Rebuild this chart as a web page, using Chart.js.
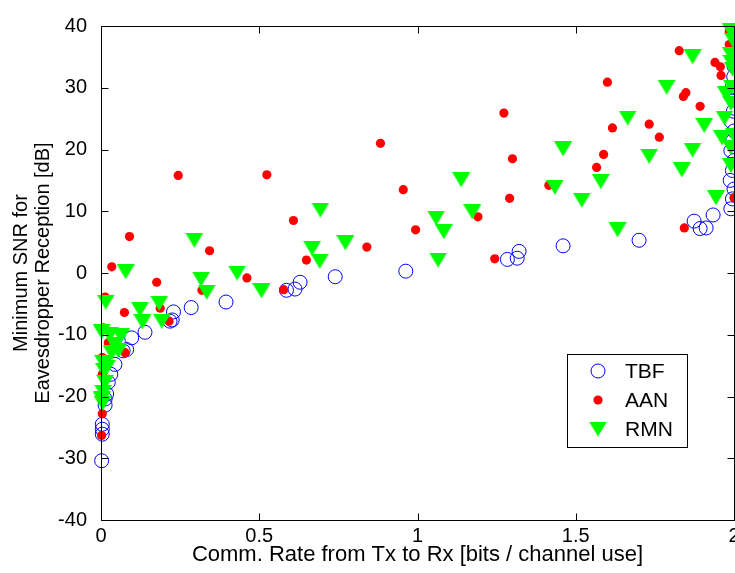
<!DOCTYPE html>
<html><head><meta charset="utf-8">
<script src="https://cdn.jsdelivr.net/npm/chart.js@4.4.1/dist/chart.umd.min.js"></script>
<style>
html,body{margin:0;padding:0;overflow:hidden;background:#fff;width:735px;height:573px}
#wrap{position:absolute;left:0;top:0;width:800px;height:573px}
</style>
</head><body><div id="wrap"><canvas id="c" width="800" height="573"></canvas></div>
<script>
// ---- data ----
const xTickLabels = [0, 0.5, 1, 1.5, 2];
const yTickLabels = [-40, -30, -20, -10, 0, 10, 20, 30, 40];
const seriesNames = ['TBF', 'AAN', 'RMN'];

const tbfX = [0.002,0.004,0.004,0.004,0.013,0.013,0.018,0.023,0.031,0.044,0.070,0.081,0.097,0.139,0.218,0.225,0.229,0.285,0.395,0.586,0.613,0.629,0.740,0.963,1.284,1.315,1.321,1.460,1.700,1.874,1.893,1.912,1.934,
  1.990,1.995,2.000,1.988,1.995,2.000,1.990,1.996,2.000,1.992,1.998,2.000,1.994,1.999,2.000];
const tbfY = [-30.4,-26.1,-25.3,-24.5,-21.4,-20.4,-19.6,-17.7,-16.4,-14.8,-12.6,-12.4,-10.5,-9.6,-7.8,-7.6,-6.3,-5.6,-4.7,-2.8,-2.6,-1.5,-0.6,0.3,2.2,2.4,3.5,4.4,5.3,8.4,7.2,7.3,9.4,
  10.4,12.0,13.6,15.0,16.6,18.2,19.8,21.4,23.0,24.5,26.2,28.0,30.0,31.8,33.5];

const aanX = [0.002,0.004,0.004,0.004,0.007,0.013,0.023,0.034,0.074,0.076,0.090,0.176,0.187,0.215,0.244,0.319,0.343,0.461,0.524,0.577,0.608,0.649,0.840,0.883,0.955,0.994,1.191,1.244,1.273,1.291,1.300,1.415,1.566,1.588,1.600,1.616,1.732,1.764,1.827,1.840,1.848,1.843,1.893,1.940,1.957,1.959,1.985,1.985,2.000];
const aanY = [-26.3,-22.8,-16.4,-13.7,-8.9,-3.9,-11.3,1.0,-6.4,-12.9,5.9,-1.5,-5.7,-7.8,15.8,-2.8,3.6,-0.8,15.9,-2.7,8.5,2.1,4.2,21.0,13.5,7.0,9.1,2.3,25.9,12.1,18.5,14.2,17.1,19.2,30.9,23.5,24.1,22.0,36.0,28.6,29.2,7.3,27.0,34.1,33.4,32.0,39.1,37.0,12.2];

const rmnX = [0.002,0.005,0.007,0.013,0.010,0.007,0.018,0.002,0.028,0.063,0.044,0.034,0.055,0.015,0.078,0.123,0.131,0.184,0.192,0.295,0.316,0.334,0.430,0.507,0.667,0.691,0.693,0.772,1.059,1.065,1.083,1.138,1.173,1.434,1.460,1.519,1.579,1.632,1.664,1.732,1.787,1.835,1.869,1.869,1.906,1.943,1.962,1.970,1.975,1.990,1.998,1.990,1.992,1.996,1.993,1.990,2.000,1.990,1.990];
const rmnY = [-20.4,-21.1,-19.3,-17.7,-15.8,-14.5,-15.3,-9.5,-10.0,-10.2,-11.6,-12.9,-12.6,-4.7,0.2,-5.9,-7.9,-4.9,-7.8,5.3,-1.0,-3.1,0.0,-2.9,4.0,1.9,10.2,4.9,8.9,2.1,6.7,15.1,9.9,13.9,20.1,11.8,14.8,7.0,25.1,18.9,30.1,16.7,35.0,19.9,23.9,12.2,21.9,25.1,29.0,39.2,37.6,35.4,34.1,33.0,30.1,27.5,22.2,20.3,17.4];

const FONT = "'Liberation Sans', Arial, Helvetica, sans-serif";

// down-pointing triangle marker image (bbox-centred like MATLAB 'v')
function triMarker(w, h, color) {
  const c = document.createElement('canvas');
  c.width = w; c.height = h;
  const g = c.getContext('2d');
  g.fillStyle = color;
  g.beginPath(); g.moveTo(0, 0); g.lineTo(w, 0); g.lineTo(w / 2, h); g.closePath(); g.fill();
  return c;
}
const tri = triMarker(18, 15, '#00ff00');

const pts = (xs, ys) => xs.map((x, i) => ({x: x, y: ys[i]}));

const frame = {
  id: 'frame',
  afterDatasetsDraw(chart) {
    const {ctx, chartArea: a, scales: {x, y}} = chart;
    ctx.save();
    ctx.strokeStyle = '#000'; ctx.lineWidth = 1;
    const L = Math.round(a.left) + 0.5, R = Math.round(a.right) + 0.5;
    const T = Math.round(a.top) + 0.5, B = Math.round(a.bottom) + 0.5;
    ctx.beginPath();
    ctx.rect(L, T, R - L, B - T);
    const tl = 7;
    x.ticks.forEach(t => {
      const p = Math.round(x.getPixelForValue(t.value)) + 0.5;
      ctx.moveTo(p, B); ctx.lineTo(p, B - tl);
      ctx.moveTo(p, T); ctx.lineTo(p, T + tl);
    });
    y.ticks.forEach(t => {
      const p = Math.round(y.getPixelForValue(t.value)) + 0.5;
      ctx.moveTo(L, p); ctx.lineTo(L + tl, p);
      ctx.moveTo(R, p); ctx.lineTo(R - tl, p);
    });
    ctx.stroke();
    ctx.restore();
  },
  afterDraw(chart) {
    const ctx = chart.ctx;
    ctx.save();
    const bx = 567.5, by = 354.5, bw = 120, bh = 93;
    ctx.fillStyle = '#fff'; ctx.fillRect(bx, by, bw, bh);
    ctx.strokeStyle = '#000'; ctx.lineWidth = 1; ctx.strokeRect(bx, by, bw, bh);
    const rows = [371, 400, 429], mx = 598, tx = 625;
    // TBF
    ctx.beginPath(); ctx.arc(mx, rows[0], 7, 0, Math.PI * 2);
    ctx.strokeStyle = '#0000ff'; ctx.stroke();
    // AAN
    ctx.beginPath(); ctx.arc(mx, rows[1], 4.6, 0, Math.PI * 2);
    ctx.fillStyle = '#ff0000'; ctx.fill();
    // RMN
    ctx.drawImage(tri, mx - tri.width / 2, rows[2] - tri.height / 2);
    ctx.fillStyle = '#000';
    ctx.font = '21px ' + FONT;
    ctx.textBaseline = 'middle'; ctx.textAlign = 'left';
    seriesNames.forEach((n, i) => ctx.fillText(n, tx, rows[i] + 1));
    ctx.restore();
  }
};

new Chart(document.getElementById('c'), {
  type: 'scatter',
  data: {
    datasets: [
      {label: seriesNames[0], data: pts(tbfX, tbfY), order: 3, clip: false,
       pointStyle: 'circle', pointRadius: 7, pointBorderColor: '#0000ff', pointBorderWidth: 1,
       pointBackgroundColor: 'rgba(0,0,0,0)', borderColor: '#0000ff', backgroundColor: 'rgba(0,0,0,0)'},
      {label: seriesNames[1], data: pts(aanX, aanY), order: 2, clip: false,
       pointStyle: 'circle', pointRadius: 4.6, pointBorderWidth: 0,
       pointBackgroundColor: '#ff0000', borderColor: '#ff0000', backgroundColor: '#ff0000'},
      {label: seriesNames[2], data: pts(rmnX, rmnY), order: 1, clip: false,
       pointStyle: tri, pointRadius: 9, borderColor: '#00ff00', backgroundColor: '#00ff00'}
    ]
  },
  options: {
    responsive: false, animation: false, devicePixelRatio: 1,
    events: [],
    layout: {padding: {left: 0, top: 18, right: 66, bottom: 0}},
    plugins: {legend: {display: false}, tooltip: {enabled: false}},
    scales: {
      x: {
        type: 'linear', min: 0, max: 2,
        afterBuildTicks: s => { s.ticks = xTickLabels.map(v => ({value: v})); },
        afterFit: s => { s.height = 53; },
        grid: {display: false, drawTicks: false}, border: {display: false},
        ticks: {color: '#000', font: {family: FONT, size: 20}, padding: 4, maxRotation: 0,
                callback: v => String(v)},
        title: {display: true, text: 'Comm. Rate from Tx to Rx [bits / channel use]', color: '#000',
                font: {family: FONT, size: 22, lineHeight: 1.0}, padding: {top: 0, bottom: 7}}
      },
      y: {
        type: 'linear', min: -40, max: 40,
        afterBuildTicks: s => { s.ticks = yTickLabels.map(v => ({value: v})); },
        afterFit: s => { s.width = 101; },
        grid: {display: false, drawTicks: false}, border: {display: false},
        ticks: {color: '#000', font: {family: FONT, size: 20}, padding: 14,
                callback: v => String(v)},
        title: {display: true, text: ['Minimum SNR for', 'Eavesdropper Reception [dB]'], color: '#000',
                font: {family: FONT, size: 20, lineHeight: 1.1}, padding: {top: 10, bottom: 0}}
      }
    }
  },
  plugins: [frame]
});
</script>
</body></html>
